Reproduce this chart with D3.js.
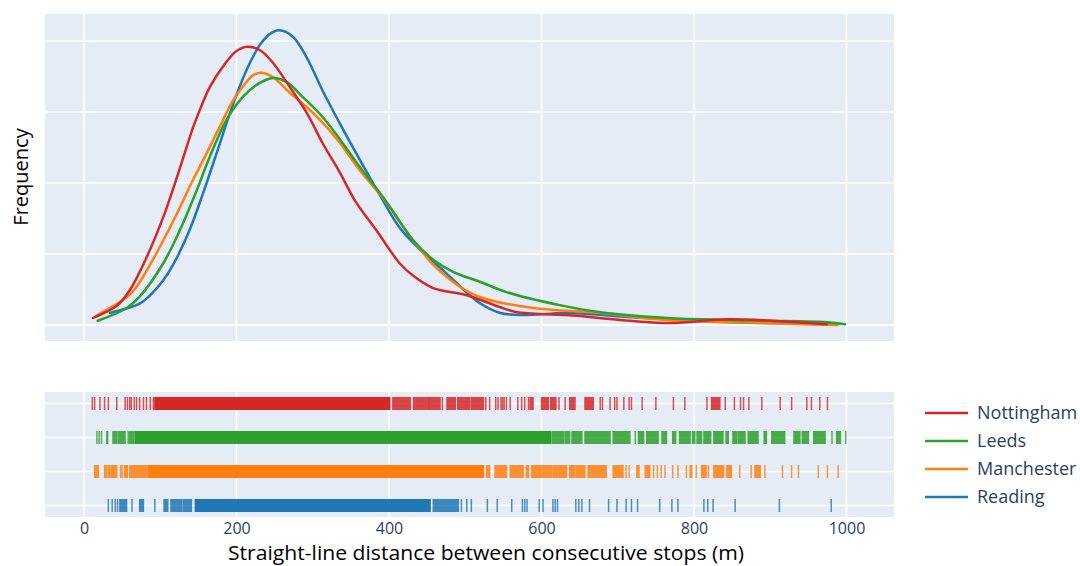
<!DOCTYPE html>
<html><head><meta charset="utf-8">
<script src="https://cdn.jsdelivr.net/npm/d3@7"></script>
<style>body{margin:0;background:#fff;} svg{display:block;font-family:"Open Sans",sans-serif;}</style>
</head><body><svg id="c" width="1080" height="566"></svg>
<script>
// ---------- data ----------
const cities = ["Nottingham", "Leeds", "Manchester", "Reading"];
const cityColors = ["#d62728", "#2ca02c", "#ff7f0e", "#1f77b4"];
const xTickValues = [0, 200, 400, 600, 800, 1000];
const yGridValues = [0, 1, 2, 3, 4]; // density per km (no labels shown)

// KDE curves: distance (m) and density (per km)
const nottinghamX = [12,43,60,82,104,117,130,143,152,165,185,200,214,231,248,270,292,313,336,355,385,414,431,458,502,546,568,633,765,847,974];
const nottinghamY = [0.10,0.27,0.49,0.95,1.52,1.92,2.35,2.78,3.03,3.35,3.68,3.86,3.92,3.87,3.69,3.35,2.99,2.56,2.14,1.76,1.31,0.87,0.70,0.52,0.42,0.25,0.18,0.14,0.03,0.08,0.01];
const leedsX = [18,56,73,104,126,148,165,187,209,229,248,266,287,313,336,358,397,414,431,458,484,519,555,624,677,765,851,974,998];
const leedsY = [0.06,0.24,0.40,0.87,1.34,1.90,2.37,2.89,3.22,3.40,3.48,3.42,3.21,2.93,2.61,2.28,1.73,1.46,1.20,0.92,0.75,0.61,0.46,0.28,0.18,0.10,0.07,0.04,0.01];
const manchesterX = [16,56,69,95,122,141,161,178,196,213,222,235,248,270,292,313,336,358,397,414,437,458,493,523,589,677,765,851,988];
const manchesterY = [0.13,0.39,0.54,1.01,1.57,2.00,2.42,2.79,3.17,3.42,3.52,3.55,3.49,3.27,3.07,2.85,2.56,2.23,1.72,1.45,1.12,0.85,0.54,0.38,0.24,0.17,0.07,0.04,0.00];
const readingX = [34,73,87,104,117,139,156,174,191,205,218,231,244,256,274,292,313,336,358,388,414,441,471,519,546,576,633,720,851,978];
const readingY = [0.17,0.30,0.42,0.63,0.85,1.35,1.85,2.42,2.97,3.38,3.70,3.95,4.10,4.15,4.06,3.77,3.30,2.83,2.40,1.83,1.37,1.06,0.77,0.31,0.17,0.14,0.17,0.11,0.04,0.01];

// Rug: dense stretches [from, to] (m) and single stops (m)
const nottinghamRugRanges = [[93,401],[405,428],[432,452],[453,467],[476,487],[490,506],[508,524],[585,589],[600,609],[612,619],[637,644],[657,668],[823,834]];
const nottinghamRugTicks = [11,14,21,27,32,43,54,57,60,62,66,69,73,78,82,87,91,470,527,532,540,543,547,549,551,554,559,569,574,578,583,623,631,677,680,690,696,699,708,715,718,732,750,773,788,817,841,853,861,865,872,889,913,928,948,954,965,975];
const leedsRugRanges = [[38,43],[45,54],[60,65],[67,612],[614,629],[631,637],[640,653],[657,690],[694,716],[727,734],[738,753],[758,764],[772,776],[781,795],[798,801],[804,810],[813,822],[826,838],[842,845],[851,856],[858,867],[871,884],[892,895],[902,919],[931,939],[942,950],[957,972],[987,992]];
const leedsRugTicks = [17,20,23,30,31,58,723,981,999];
const manchesterRugRanges = [[14,19],[27,30],[32,34],[36,38],[39,43],[53,57],[60,82],[84,524],[528,532],[539,554],[559,576],[580,583],[587,613],[615,633],[637,644],[646,657],[661,685],[694,707],[725,728],[736,742],[795,797],[810,816],[826,839],[843,849],[880,887]];
const manchesterRugTicks = [48,50,711,715,747,752,757,762,772,779,790,803,819,860,875,893,916,928,937,963,975,989];
const readingRugRanges = [[47,56],[73,78],[105,110],[114,128],[130,141],[146,454],[458,491]];
const readingRugTicks = [32,37,41,44,63,93,495,502,508,529,542,561,575,578,581,597,602,615,618,621,645,649,653,663,688,699,711,718,726,755,771,779,813,818,825,854,912,980];

const xTitle = "Straight-line distance between consecutive stops (m)";
const yTitle = "Frequency";

// ---------- build ----------
const series = [
  {name: cities[0], color: cityColors[0], xs: nottinghamX, ys: nottinghamY, ranges: nottinghamRugRanges, ticks: nottinghamRugTicks},
  {name: cities[1], color: cityColors[1], xs: leedsX, ys: leedsY, ranges: leedsRugRanges, ticks: leedsRugTicks},
  {name: cities[2], color: cityColors[2], xs: manchesterX, ys: manchesterY, ranges: manchesterRugRanges, ticks: manchesterRugTicks},
  {name: cities[3], color: cityColors[3], xs: readingX, ys: readingY, ranges: readingRugRanges, ticks: readingRugTicks}
];

const svg = d3.select("#c");
const L = 45, R = 894;
const top1 = 14, bot1 = 341;
const top2 = 392, bot2 = 517;
const bg = "#E5ECF6";

const x = d3.scaleLinear().domain([-51.1, 1062.3]).range([L, R]);
const y = d3.scaleLinear().domain([-0.225, 4.38]).range([bot1, top1]);
const yr = d3.scalePoint().domain(cities).range([top2, bot2]).padding(0.338);

// backgrounds
svg.append("rect").attr("x", L).attr("y", top1).attr("width", R - L).attr("height", bot1 - top1).attr("fill", bg);
svg.append("rect").attr("x", L).attr("y", top2).attr("width", R - L).attr("height", bot2 - top2).attr("fill", bg);

// grids
const g1 = svg.append("g");
g1.selectAll("line.v").data(xTickValues).join("line")
  .attr("x1", d => x(d)).attr("x2", d => x(d)).attr("y1", top1).attr("y2", bot1)
  .attr("stroke", "#fff").attr("stroke-width", 1.5);
g1.selectAll("line.h").data(yGridValues).join("line")
  .attr("x1", L).attr("x2", R).attr("y1", d => y(d)).attr("y2", d => y(d))
  .attr("stroke", "#fff").attr("stroke-width", d => d === 0 ? 2 : 1.5);
const g2 = svg.append("g");
g2.selectAll("line.v").data(xTickValues).join("line")
  .attr("x1", d => x(d)).attr("x2", d => x(d)).attr("y1", top2).attr("y2", bot2)
  .attr("stroke", "#fff").attr("stroke-width", 1.5);
g2.selectAll("line.h").data(cities).join("line")
  .attr("x1", L).attr("x2", R).attr("y1", d => yr(d)).attr("y2", d => yr(d))
  .attr("stroke", "#fff").attr("stroke-width", 1.5);

// KDE lines (Reading drawn first, Nottingham on top)
const line = d3.line().x(d => x(d[0])).y(d => y(d[1])).curve(d3.curveCatmullRom.alpha(0.5));
svg.append("clipPath").attr("id", "clip1").append("rect")
  .attr("x", L).attr("y", top1).attr("width", R - L).attr("height", bot1 - top1);
const lines = svg.append("g").attr("clip-path", "url(#clip1)");
series.slice().reverse().forEach(s => {
  lines.append("path").datum(s.xs.map((v, i) => [v, s.ys[i]]))
    .attr("d", line).attr("fill", "none").attr("stroke", s.color)
    .attr("stroke-width", 2.5).attr("stroke-linejoin", "round").attr("stroke-linecap", "round");
});

// rug
const tickH = 13;
series.forEach(s => {
  const gr = svg.append("g");
  const cy = yr(s.name);
  gr.selectAll("rect").data(s.ranges).join("rect")
    .attr("x", d => x(d[0]) - 0.7)
    .attr("width", d => Math.max(1.5, x(d[1]) - x(d[0]) + 1.4))
    .attr("y", cy - tickH / 2).attr("height", tickH)
    .attr("fill", s.color).attr("opacity", d => (d[1] - d[0]) > 60 ? 1 : 0.85);
  gr.selectAll("line").data(s.ticks).join("line")
    .attr("x1", d => x(d)).attr("x2", d => x(d))
    .attr("y1", cy - tickH / 2).attr("y2", cy + tickH / 2)
    .attr("stroke", s.color).attr("stroke-width", 1.5).attr("opacity", 0.8);
});

// x axis labels (below rug)
const xAxis = d3.axisBottom(x).tickValues(xTickValues).tickSize(0).tickPadding(0).tickFormat(d3.format("d"));
const ax = svg.append("g").attr("transform", `translate(0,${bot2})`).call(xAxis);
ax.select(".domain").remove();
ax.selectAll("text").attr("font-family", "'Open Sans', sans-serif").attr("font-size", 16)
  .attr("fill", "#2a3f5f").attr("dy", null).attr("y", 16.5);

// titles
svg.append("text").attr("x", 486).attr("y", 559.5).attr("text-anchor", "middle")
  .attr("font-size", 20).attr("fill", "#000")
  .attr("textLength", 516).attr("lengthAdjust", "spacingAndGlyphs").text(xTitle);
svg.append("text").attr("transform", "translate(28,177) rotate(-90)").attr("text-anchor", "middle")
  .attr("font-size", 20).attr("fill", "#000").text(yTitle);

// legend
const leg = svg.append("g");
const legY = [413, 441, 469, 497];
series.forEach((s, i) => {
  leg.append("line").attr("x1", 925).attr("x2", 968).attr("y1", legY[i]).attr("y2", legY[i])
    .attr("stroke", s.color).attr("stroke-width", 2.5);
  leg.append("text").attr("x", 977).attr("y", legY[i]).attr("dy", "0.35em")
    .attr("font-size", 18).attr("fill", "#2a3f5f").text(s.name);
});
</script>
</body></html>
